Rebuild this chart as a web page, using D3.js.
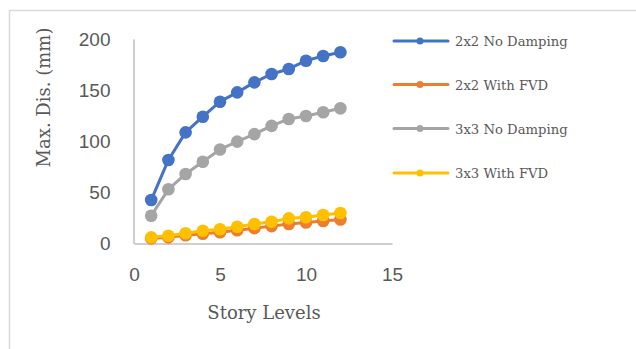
<!DOCTYPE html>
<html>
<head>
<meta charset="utf-8">
<script src="https://cdn.jsdelivr.net/npm/d3@7"></script>
<style>
  html, body { margin: 0; padding: 0; background: #fff; }
  svg { display: block; }
</style>
</head>
<body>
<svg id="chart" width="636" height="349"></svg>
<script>
// Story levels (x values)
const storyLevels = [1, 2, 3, 4, 5, 6, 7, 8, 9, 10, 11, 12];

// Maximum displacement (mm) per story for each model
const noDamping2x2 = [42.5, 81.7, 108.7, 124, 138.7, 147.8, 157.6, 165.8, 170.7, 178.8, 183.4, 187];
const withFVD2x2   = [5, 6, 8, 9.5, 11, 13, 15, 17, 19, 20.5, 22, 23.5];
const noDamping3x3 = [27.2, 53, 68, 80, 92, 99.6, 107, 115, 121.8, 124.7, 128.3, 132.2];
const withFVD3x3   = [6, 7.6, 10, 12.5, 14, 16.4, 19, 21.3, 24.6, 25.6, 27.9, 29.8];

const seriesNames  = ["2x2 No Damping", "2x2 With FVD", "3x3 No Damping", "3x3 With FVD"];
const seriesValues = [noDamping2x2, withFVD2x2, noDamping3x3, withFVD3x3];
const seriesColors = ["#4472C4", "#ED7D31", "#A5A5A5", "#FFC000"];

const xTicks = [0, 5, 10, 15];
const yTicks = [0, 50, 100, 150, 200];

const svg = d3.select("#chart");

// Outer chart frame (only the top and left edges fall inside the view)
svg.append("rect")
  .attr("x", 9.5).attr("y", 10.5)
  .attr("width", 700).attr("height", 400)
  .attr("fill", "none")
  .attr("stroke", "#d9d9d9")
  .attr("stroke-width", 1.5);

const x = d3.scaleLinear().domain([0, 15]).range([134, 392]);
const y = d3.scaleLinear().domain([0, 200]).range([243.5, 39]);

const axisColor = "#bfbfbf";
const tickColor = "#595959";
const tickFont = "'Liberation Sans', Arial, sans-serif";
const serifFont = "'DejaVu Serif', 'Liberation Serif', serif";

// Y axis
const yAxis = svg.append("g")
  .attr("transform", `translate(${x(0) - 0.5},0)`)
  .call(d3.axisLeft(y).tickValues(yTicks).tickSize(0).tickPadding(23).tickFormat(d3.format("d")));
yAxis.select(".domain").attr("stroke", axisColor).attr("stroke-width", 1.5);
yAxis.selectAll("text")
  .attr("fill", tickColor)
  .style("font-family", tickFont)
  .style("font-size", "19px");

// X axis
const xAxis = svg.append("g")
  .attr("transform", `translate(0,${y(0)})`)
  .call(d3.axisBottom(x).tickValues(xTicks).tickSize(0).tickPadding(24).tickFormat(d3.format("d")));
xAxis.select(".domain").attr("stroke", axisColor).attr("stroke-width", 1.5);
xAxis.selectAll("text")
  .attr("fill", tickColor)
  .style("font-family", tickFont)
  .style("font-size", "19px");

// Axis titles
svg.append("text")
  .attr("transform", "translate(50,97.5) rotate(-90)")
  .attr("text-anchor", "middle")
  .attr("fill", tickColor)
  .style("font-family", serifFont)
  .style("font-size", "18px")
  .text("Max. Dis. (mm)");

svg.append("text")
  .attr("x", 264).attr("y", 319)
  .attr("text-anchor", "middle")
  .attr("fill", tickColor)
  .style("font-family", serifFont)
  .style("font-size", "18px")
  .text("Story Levels");

// Series lines and markers
const line = d3.line()
  .x((d, i) => x(storyLevels[i]))
  .y(d => y(d));

seriesValues.forEach((vals, s) => {
  const g = svg.append("g");
  g.append("path")
    .datum(vals)
    .attr("fill", "none")
    .attr("stroke", seriesColors[s])
    .attr("stroke-width", 3)
    .attr("stroke-linejoin", "round")
    .attr("d", line);
  g.selectAll("circle")
    .data(vals)
    .join("circle")
    .attr("cx", (d, i) => x(storyLevels[i]))
    .attr("cy", d => y(d))
    .attr("r", 6.3)
    .attr("fill", seriesColors[s]);
});

// Legend
const legendY = [41, 84.5, 128.5, 173];
const legend = svg.append("g");
seriesNames.forEach((name, s) => {
  const row = legend.append("g").attr("transform", `translate(0,${legendY[s]})`);
  row.append("line")
    .attr("x1", 394).attr("x2", 448)
    .attr("stroke", seriesColors[s])
    .attr("stroke-width", 3)
    .attr("stroke-linecap", "round");
  row.append("circle")
    .attr("cx", 420).attr("r", 3.5)
    .attr("fill", seriesColors[s]);
  row.append("text")
    .attr("x", 455).attr("y", 5)
    .attr("fill", tickColor)
    .style("font-family", serifFont)
    .style("font-size", "13.2px")
    .text(name);
});
</script>
</body>
</html>
